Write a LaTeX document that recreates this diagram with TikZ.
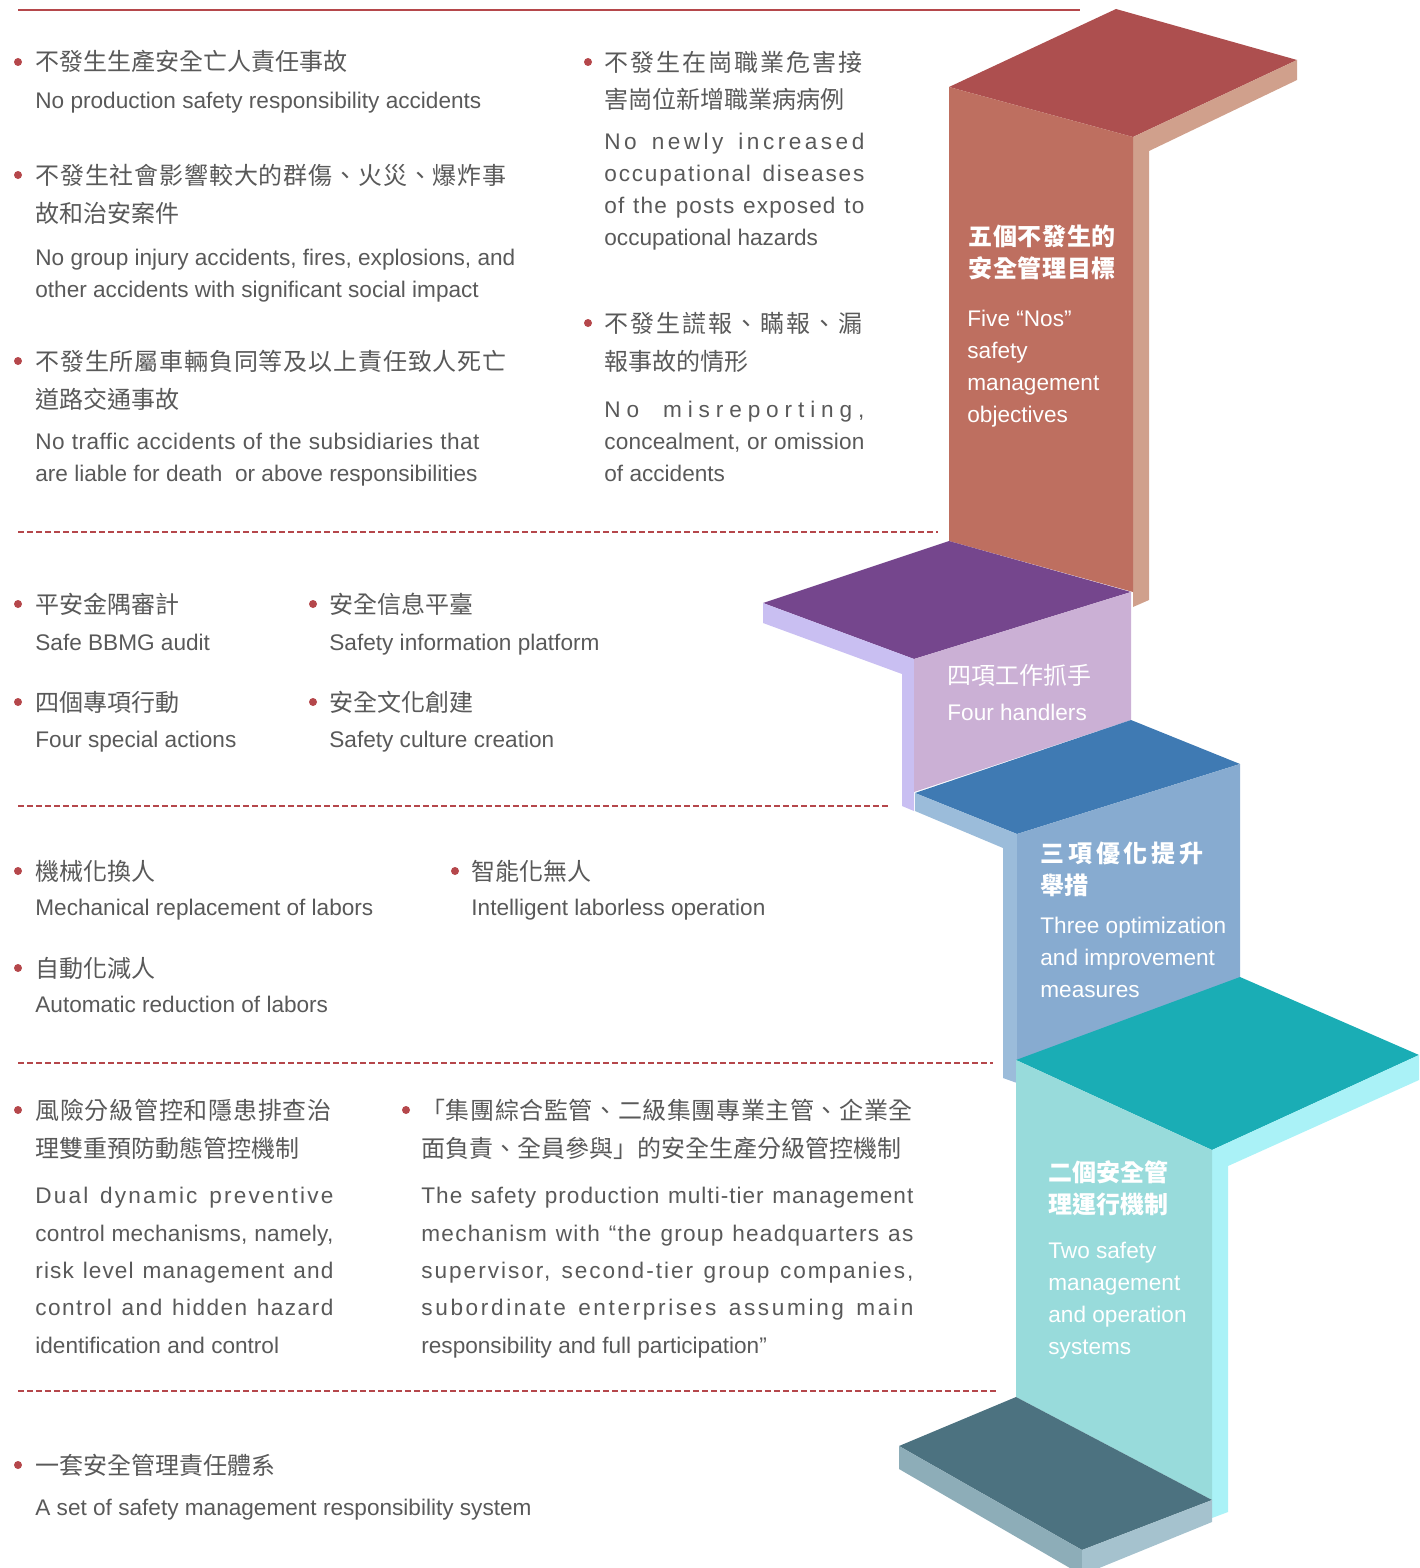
\documentclass[tikz,border=0pt]{standalone}
\usepackage{fontspec}
\setmainfont{Liberation Sans}
\newfontfamily\cjk{Noto Sans CJK TC}

\definecolor{rulered}{HTML}{B5474B}
\definecolor{txtgray}{HTML}{595959}
\definecolor{redtop}{HTML}{AD4F4F}
\definecolor{redfront}{HTML}{BE6F60}
\definecolor{redside}{HTML}{D0A08C}
\definecolor{purtop}{HTML}{75468D}
\definecolor{purfront}{HTML}{CBB0D5}
\definecolor{purside}{HTML}{C9BFF2}
\definecolor{bluetop}{HTML}{3F7AB3}
\definecolor{bluefront}{HTML}{87ABD0}
\definecolor{blueside}{HTML}{9BBCDA}
\definecolor{tealtop}{HTML}{1AADB5}
\definecolor{tealfront}{HTML}{98DBDB}
\definecolor{tealside}{HTML}{AAF2F7}
\definecolor{slatetop}{HTML}{4C7280}
\definecolor{slateleft}{HTML}{8DADB8}
\definecolor{slateright}{HTML}{A5C2CE}

% spread one line to a given width
\ExplSyntaxOn
\box_new:N \l__fit_box
\fp_new:N \l__fit_fp
\NewDocumentCommand \fitline { m m }
  {
    \hbox_set:Nn \l__fit_box { #2 }
    \fp_set:Nn \l__fit_fp
      {
        100 * ( \dim_to_fp:n { #1 } - \dim_to_fp:n { \box_wd:N \l__fit_box } )
        / ( \str_count:n { #2 } ) / \dim_to_fp:n { 1em }
      }
    \group_begin:
      \exp_args:Nx \addfontfeatures { LetterSpace = \fp_eval:n { round( \l__fit_fp , 2 ) } }
      \makebox [ #1 ] [ s ] { #2 }
    \group_end:
  }
\ExplSyntaxOff

% multi-line nodes sit on the baseline of their last line
\tikzset{
  en/.style={anchor=base west, inner sep=0pt, text=txtgray, align=left,
    font=\fontsize{11.3}{16}\selectfont},
  enwide/.style={en, font=\fontsize{11.3}{18.65}\selectfont},
  zh/.style={anchor=base west, inner sep=0pt, text=txtgray, align=left,
    font=\cjk\fontsize{12}{18.8}\selectfont},
  dot/.style={circle, fill=rulered, inner sep=0pt, minimum size=4pt},
  sep/.style={rulered, line width=0.6pt, dash pattern=on 3pt off 1.5pt},
  boxzh/.style={zh, text=white, font=\cjk\bfseries\fontsize{12}{16}\selectfont},
  boxen/.style={en, text=white},
}

\begin{document}
\begin{tikzpicture}[x=0.5pt, y=-0.5pt]
  \useasboundingbox (0,0) rectangle (1419,1568);
  % rules
  \draw[rulered, line width=1.2pt] (18,10) -- (1080,10);
  \draw[sep] (18,532) -- (938,532);
  \draw[sep] (18,806) -- (890,806);
  \draw[sep] (18,1063) -- (993,1063);
  \draw[sep] (18,1391) -- (998,1391);

  % step 5 (red)
  \fill[redtop] (949,87) -- (1116,9) -- (1297,60) -- (1133,137) -- cycle;
  \fill[redside] (1133,137) -- (1297,60) -- (1297,80) -- (1149,151) -- (1149,600) -- (1133,607) -- cycle;
  \fill[redfront] (949,87) -- (1133,137) -- (1133,592) -- (949,541) -- cycle;
  % step 4 (purple)
  \fill[purtop] (763,603) -- (949,541) -- (1131,592) -- (914,659) -- cycle;
  \fill[purside] (763,603) -- (914,659) -- (914,811) -- (902,806) -- (902,674) -- (763,623) -- cycle;
  \fill[purfront] (914,659) -- (1131,592) -- (1131,720) -- (914,792) -- cycle;
  % step 3 (blue)
  \fill[bluetop] (915,793) -- (1131,720) -- (1240,764) -- (1017,834) -- cycle;
  \fill[blueside] (915,793) -- (1017,834) -- (1017,1083) -- (1003,1078) -- (1003,848) -- (915,811) -- cycle;
  \fill[bluefront] (1017,834) -- (1240,764) -- (1240,978) -- (1017,1062) -- cycle;
  % step 2 (teal)
  \fill[tealtop] (1016,1060) -- (1240,977) -- (1419,1055) -- (1212,1150) -- cycle;
  \fill[tealside] (1212,1150) -- (1419,1055) -- (1419,1080) -- (1228,1166) -- (1228,1512) -- (1212,1518) -- cycle;
  \fill[tealfront] (1016,1060) -- (1212,1150) -- (1212,1500) -- (1016,1397) -- cycle;
  % step 1 (slate)
  \fill[slatetop] (899,1446) -- (1016,1397) -- (1212,1500) -- (1082,1550) -- cycle;
  \fill[slateleft] (899,1446) -- (1082,1550) -- (1082,1575) -- (899,1469) -- cycle;
  \fill[slateright] (1082,1550) -- (1212,1500) -- (1212,1522) -- (1082,1575) -- cycle;

  % step labels
  \node[boxzh] (s5zh) at (968,277) {\fitline{74pt}{五個不發生的}\\\fitline{74pt}{安全管理目標}};
  \node[boxen] (s5en) at (967,422) {Five “Nos”\\safety\\management\\objectives};
  \node[boxzh, font=\cjk\fontsize{12}{16}\selectfont] (s4zh) at (947,684) {四項工作抓手};
  \node[boxen] (s4en) at (947,720) {Four handlers};
  \node[boxzh] (s3zh) at (1040,894) {\fitline{83.5pt}{三項優化提升}\\舉措};
  \node[boxen] (s3en) at (1040,997) {Three optimization\\and improvement\\measures};
  \node[boxzh] (s2zh) at (1048,1213) {二個安全管\\理運行機制};
  \node[boxen] (s2en) at (1048,1354) {Two safety\\management\\and operation\\systems};

  % five Nos
  \node[dot] (d1) at (18,62) {};
  \node[zh] (g1zh) at (35,71) {不發生生產安全亡人責任事故};
  \node[en] (g1en) at (35,109) {No production safety responsibility accidents};
  \node[dot] (d2) at (18,175) {};
  \node[zh] (g2zh) at (35,222) {\fitline{236pt}{不發生社會影響較大的群傷、火災、爆炸事}\\故和治安案件};
  \node[en] (g2en) at (35,297) {No group injury accidents, fires, explosions, and\\other accidents with significant social impact};
  \node[dot] (d3) at (18,361) {};
  \node[zh] (g3zh) at (35,408) {\fitline{236pt}{不發生所屬車輛負同等及以上責任致人死亡}\\道路交通事故};
  \node[en] (g3en) at (35,481) {\fitline{222pt}{No traffic accidents of the subsidiaries that}\\are liable for death\ \ or above responsibilities};
  \node[dot] (d4) at (588,62) {};
  \node[zh] (g4zh) at (604,109) {\fitline{130pt}{不發生在崗職業危害接}\\害崗位新增職業病病例};
  \node[en] (g4en) at (604,245) {\fitline{130pt}{No newly increased}\\\fitline{130pt}{occupational diseases}\\\fitline{130pt}{of the posts exposed to}\\occupational hazards};
  \node[dot] (d5) at (588,323) {};
  \node[zh] (g5zh) at (604,370) {\fitline{130pt}{不發生謊報、瞞報、漏}\\報事故的情形};
  \node[en] (g5en) at (604,481) {\fitline{130pt}{No misreporting,}\\\fitline{130pt}{concealment, or omission}\\of accidents};

  % four handlers
  \node[dot] (d6) at (18,604) {};
  \node[zh] (h1zh) at (35,613) {平安金隅審計};
  \node[en] (h1en) at (35,650) {Safe BBMG audit};
  \node[dot] (d7) at (313,604) {};
  \node[zh] (h2zh) at (329,613) {安全信息平臺};
  \node[en] (h2en) at (329,650) {Safety information platform};
  \node[dot] (d8) at (18,702) {};
  \node[zh] (h3zh) at (35,711) {四個專項行動};
  \node[en] (h3en) at (35,747) {Four special actions};
  \node[dot] (d9) at (313,702) {};
  \node[zh] (h4zh) at (329,711) {安全文化創建};
  \node[en] (h4en) at (329,747) {Safety culture creation};

  % three measures
  \node[dot] (d10) at (18,871) {};
  \node[zh] (m1zh) at (35,880) {機械化換人};
  \node[en] (m1en) at (35,915) {Mechanical replacement of labors};
  \node[dot] (d11) at (455,871) {};
  \node[zh] (m2zh) at (471,880) {智能化無人};
  \node[en] (m2en) at (471,915) {Intelligent laborless operation};
  \node[dot] (d12) at (18,968) {};
  \node[zh] (m3zh) at (35,977) {自動化減人};
  \node[en] (m3en) at (35,1012) {Automatic reduction of labors};

  % two systems
  \node[dot] (d13) at (18,1110) {};
  \node[zh] (y1zh) at (35,1157) {\fitline{148.5pt}{風險分級管控和隱患排查治}\\理雙重預防動態管控機制};
  \node[enwide] (y1en) at (35,1353) {\fitline{149pt}{Dual dynamic preventive}\\\fitline{149pt}{control mechanisms, namely,}\\\fitline{149pt}{risk level management and}\\\fitline{149pt}{control and hidden hazard}\\identification and control};
  \node[dot] (d14) at (406,1110) {};
  \node[zh] (y2zh) at (421,1157) {\fitline{246pt}{「集團綜合監管、二級集團專業主管、企業全}\\面負責、全員參與」的安全生產分級管控機制};
  \node[enwide] (y2en) at (421,1353) {\fitline{246pt}{The safety production multi-tier management}\\\fitline{246pt}{mechanism with “the group headquarters as}\\\fitline{246pt}{supervisor, second-tier group companies,}\\\fitline{246pt}{subordinate enterprises assuming main}\\responsibility and full participation”};

  % one system
  \node[dot] (d15) at (18,1465) {};
  \node[zh] (o1zh) at (35,1474) {一套安全管理責任體系};
  \node[en] (o1en) at (35,1515) {A set of safety management responsibility system};
\end{tikzpicture}
\end{document}
